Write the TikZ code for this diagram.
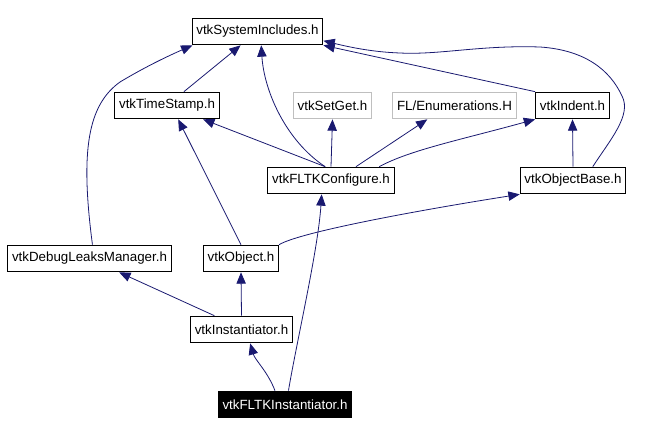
\documentclass[tikz,border=0pt]{standalone}
\usepackage{fontspec}
\setmainfont{Liberation Sans}
\usepackage{xcolor}
\usetikzlibrary{arrows.meta,backgrounds}
\definecolor{edgeblue}{HTML}{191970}
\definecolor{extgray}{HTML}{BFBFBF}
\tikzset{
  hdr/.style={draw,line width=0.75pt,fill=white,font=\fontsize{10}{12}\selectfont,minimum height=20pt,inner xsep=3.2pt,inner ysep=0pt},
  ext/.style={hdr,draw=extgray},
  cur/.style={hdr,fill=black,text=white},
  dep/.style={-{Triangle[length=8.5pt,width=7pt]},draw=edgeblue,line width=0.6pt},
}

\begin{document}
\begin{tikzpicture}[x=0.75pt,y=-0.75pt]
\path[use as bounding box] (0,0) rectangle (666,435);
% headers
\node[hdr] (sysinc) at (257.5,31.5) {vtkSystemIncludes.h};
\node[hdr] (tstamp) at (167,105.5) {vtkTimeStamp.h};
\node[ext] (setget) at (332.5,105.5) {vtkSetGet.h};
\node[ext] (flenum) at (454.5,105.5) {FL/Enumerations.H};
\node[hdr] (indent) at (572.5,105.5) {vtkIndent.h};
\node[hdr] (fltkcfg) at (331,180.5) {vtkFLTKConfigure.h};
\node[hdr] (objbase) at (573,180.5) {vtkObjectBase.h};
\node[hdr] (dbgleak) at (89.5,258.5) {vtkDebugLeaksManager.h};
\node[hdr] (object) at (241,258.5) {vtkObject.h};
\node[hdr] (inst) at (241.5,329.5) {vtkInstantiator.h};
\node[cur] (fltkinst) at (285,404.5) {vtkFLTKInstantiator.h};
% includes
\begin{scope}[on background layer]
\draw[dep] (tstamp) -- (sysinc);
\draw[dep] (dbgleak.78) .. controls (80,150) and (88,105) .. (120,82) .. controls (150,64) and (175,53) .. (sysinc.192);
\draw[dep] (fltkcfg.113) .. controls (285,140) and (264,90) .. (sysinc.285);
\draw[dep] (indent.north west) -- (sysinc.south east);
\draw[dep] (objbase.35) .. controls (610,140) and (632,115) .. (622,96) .. controls (610,70) and (585,50) .. (540,47) .. controls (480,45) and (440,55) .. (400,53) .. controls (370,52) and (345,46) .. (sysinc.-8);
\draw[dep] (fltkcfg.113) -- (tstamp.-21);
\draw[dep] (fltkcfg.north) -- (setget.south);
\draw[dep] (fltkcfg.29) -- (flenum.207);
\draw[dep] (fltkcfg.16) .. controls (410,150) and (460,140) .. (indent.south west);
\draw[dep] (objbase.north) -- (indent.south);
\draw[dep] (object.north) -- (tstamp.-51);
\draw[dep] (object.north east) .. controls (300,232) and (420,210) .. (objbase.south west);
\draw[dep] (inst.153) -- (dbgleak.-25);
\draw[dep] (inst.north) -- (object.south);
\draw[dep] (fltkinst.126) .. controls (268,372) and (255,360) .. (inst.-58);
\draw[dep] (fltkinst.76) .. controls (297,340) and (318,250) .. (fltkcfg.236);
\end{scope}
\end{tikzpicture}
\end{document}
